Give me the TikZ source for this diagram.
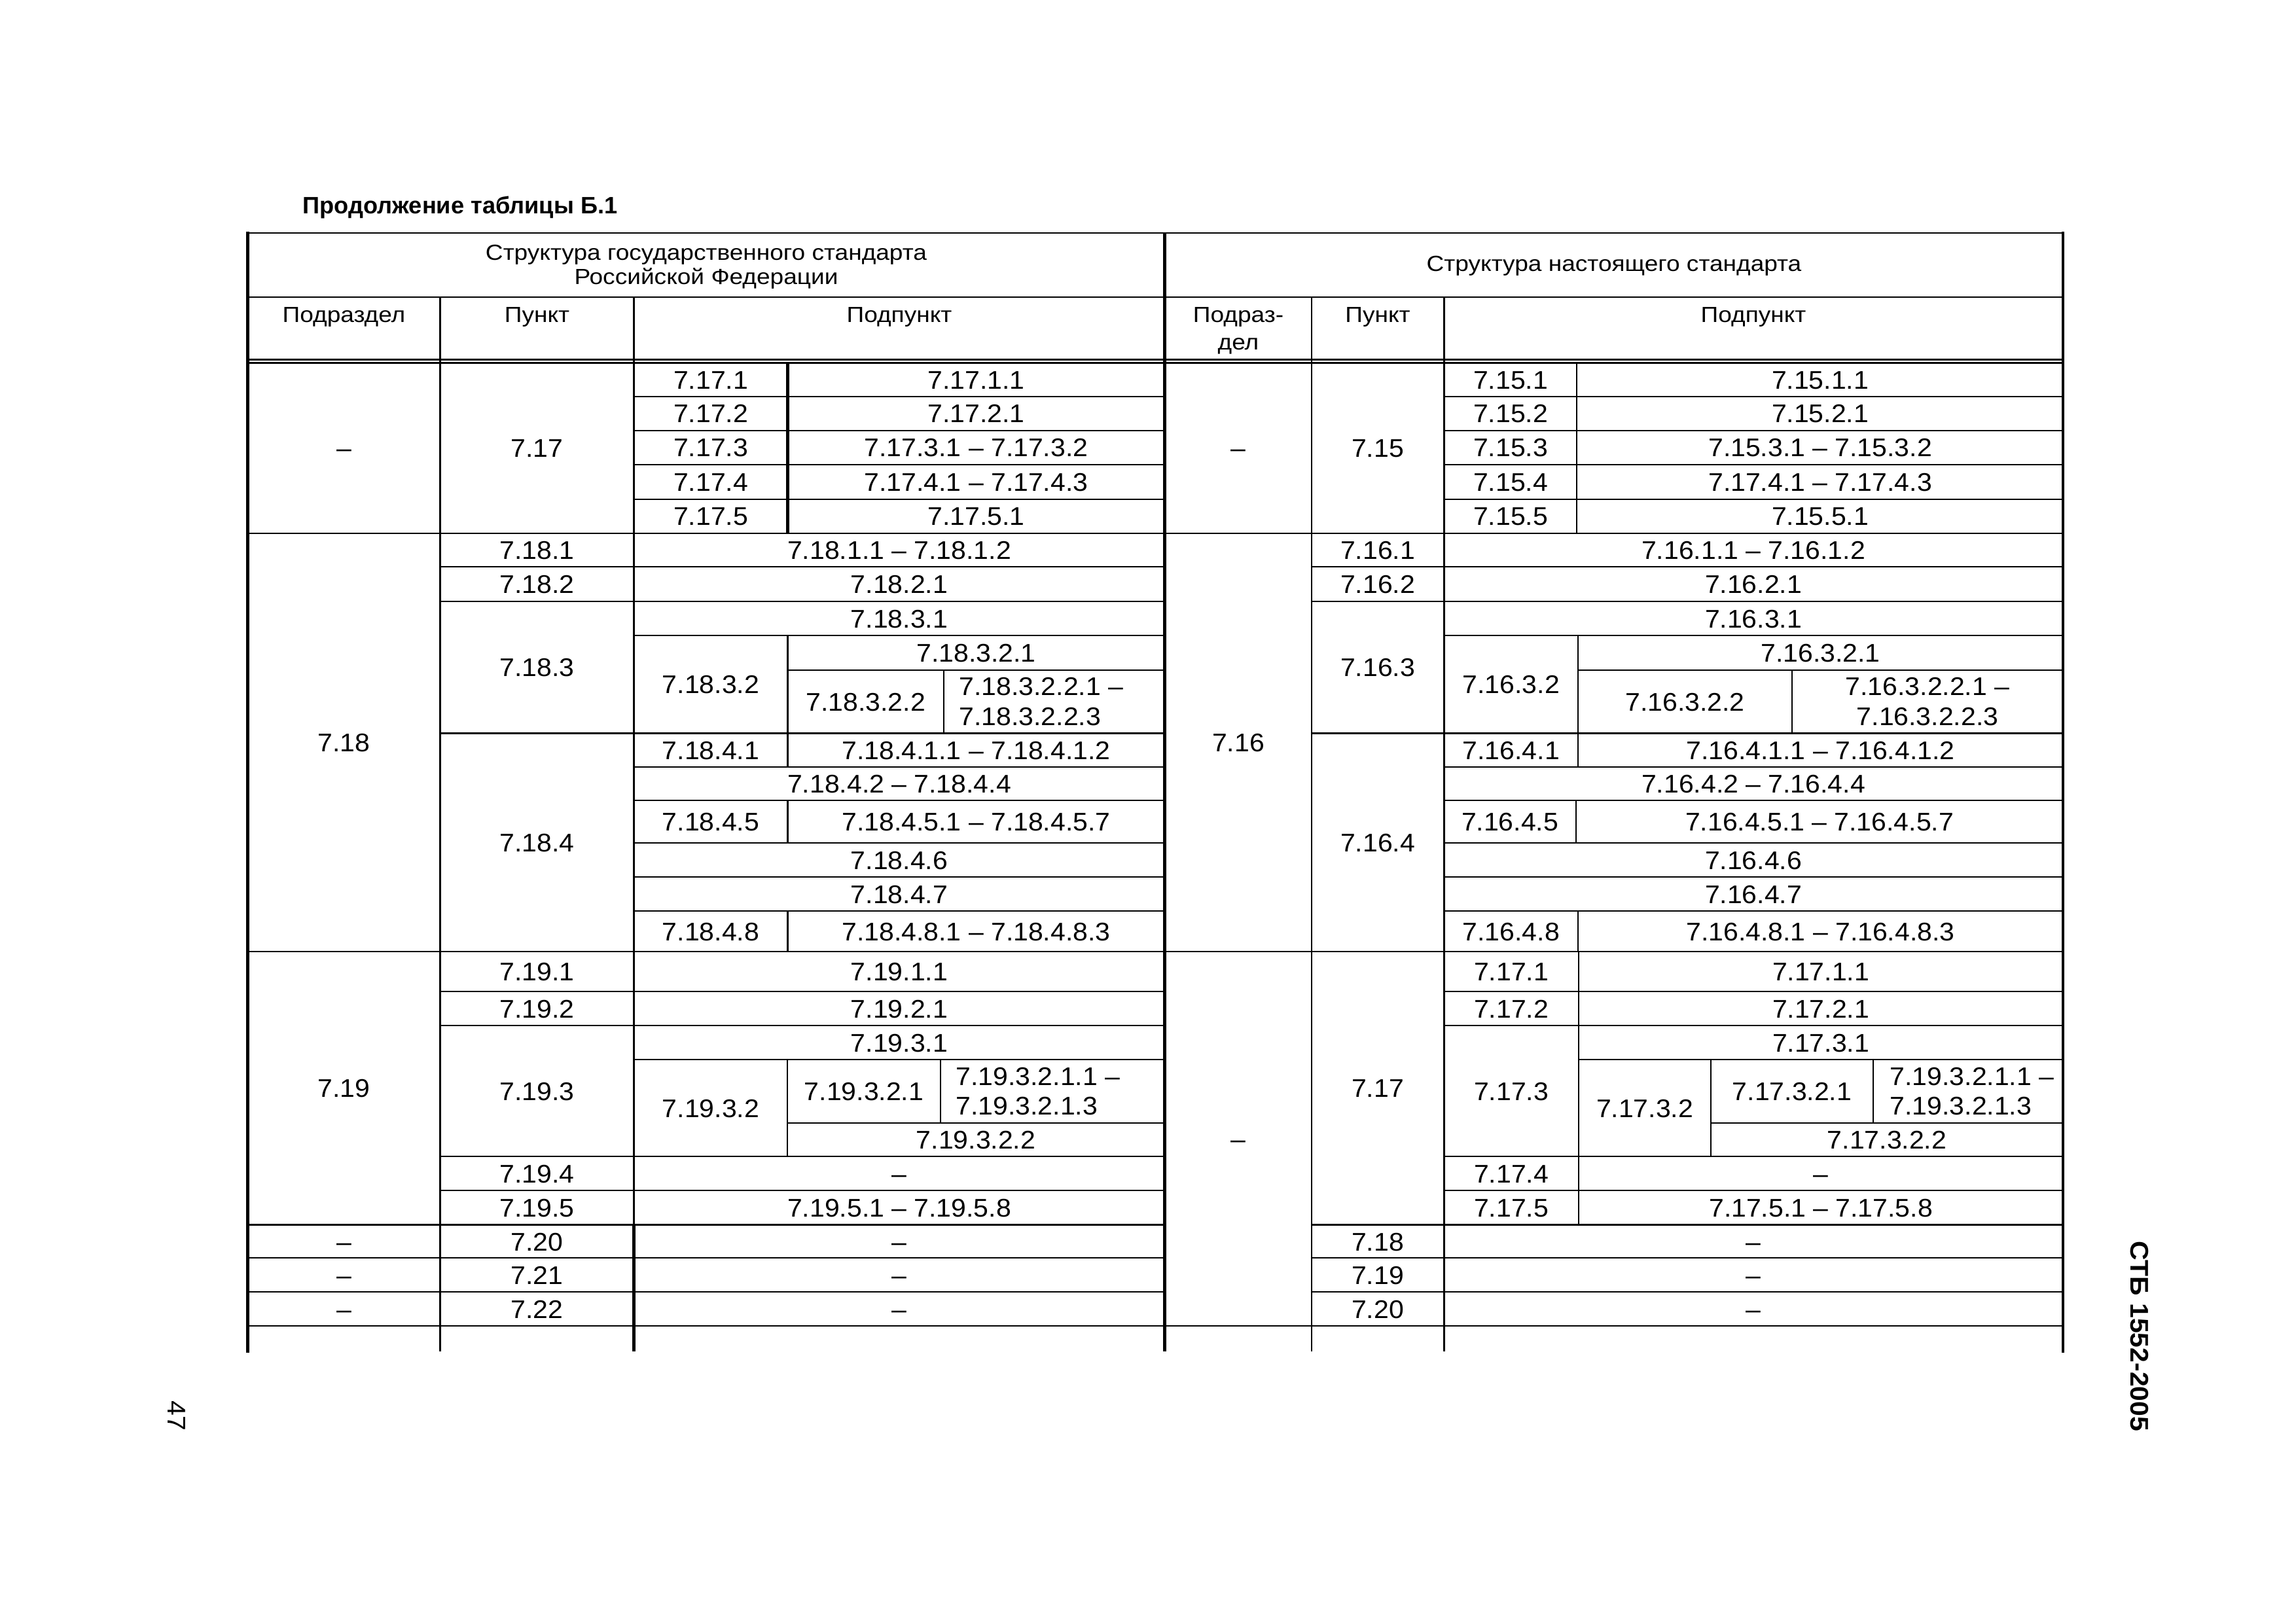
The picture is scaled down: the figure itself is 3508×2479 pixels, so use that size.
\documentclass[tikz,border=0pt]{standalone}
\usepackage{fontspec}
\setmainfont{Liberation Sans}
\newfontfamily\cellfamily[FakeStretch=1.05]{Liberation Sans}
\newfontfamily\headfamily[FakeStretch=1.11]{Liberation Sans}
\usepackage{tikz}
\usetikzlibrary{positioning}
\newcommand\cellfont{\cellfamily\fontsize{11.1}{13}\selectfont}
\newcommand\headfont{\headfamily\fontsize{9.5}{12.1}\selectfont}

\begin{document}
\begin{tikzpicture}[x=0.1mm, y=-0.1mm,
    every node/.style={inner sep=0pt},
    rule/.style={line width=0.26mm},
    heavy rule/.style={line width=0.5mm},
    frame rule/.style={line width=0.42mm, line cap=rect},
    cell/.style={font=\cellfont, text height=7.95pt, text depth=0pt},
    twoline/.style={font=\cellfont, align=left},
    head/.style={font=\headfont, align=center},
    subhead/.style={font=\headfont, align=center, anchor=north}]

    \useasboundingbox (0,0) rectangle (3508,2479);

    \node [font=\fontsize{10.3}{12}\selectfont\bfseries, anchor=base west] (title) at (462,326) {Продолжение таблицы Б.1};

    % frame and header
    \draw [rule] (378.5,356) -- (3152,356);
    \draw [frame rule] (378.5,356) -- (378.5,2065);
    \draw [frame rule] (3152,356) -- (3152,2065);
    \draw [heavy rule] (1779.5,356) -- (1779.5,2065);
    \draw [rule] (378.5,454) -- (3152,454);
    \draw [rule] (378.5,549.5) -- (3152,549.5);
    \draw [rule] (378.5,554.5) -- (3152,554.5);
    \draw [rule] (672.5,454) -- (672.5,2065);
    \draw [rule] (968.5,454) -- (968.5,1871.5);
    \draw [heavy rule] (968.5,1871.5) -- (968.5,2065);
    \draw [rule] (2004,454) -- (2004,2065);
    \draw [rule] (2206.5,454) -- (2206.5,2065);

    \node [head, font=\headfont\linespread{0.87}\selectfont] (ghead) at (1079,408) {Структура государственного стандарта\\Российской Федерации};
    \node [head] (nhead) at (2466,406) {Структура настоящего стандарта};
    \node [subhead] (gsec) at (525.5,468.5) {Подраздел};
    \node [subhead] (gcl) at (820.5,468.5) {Пункт};
    \node [subhead] (gsub) at (1374,468.5) {Подпункт};
    \node [subhead] (nsec) at (1892,468.5) {Подраз-\\дел};
    \node [subhead] (ncl) at (2105,468.5) {Пункт};
    \node [subhead] (nsub) at (2679,468.5) {Подпункт};

    % 7.17 / 7.15
    \draw [heavy rule] (1203.5,555) -- (1203.5,815);
    \draw [rule] (2409,555) -- (2409,815);
    \foreach \y in {606,658,710,763} {
        \draw [rule] (968.5,\y) -- (1779.5,\y);
        \draw [rule] (2206.5,\y) -- (3152,\y);
    }
    \draw [rule] (378.5,815) -- (3152,815);

    \node [cell] (g17sec) at (525.5,685) {–};
    \node [cell] (g17) at (820.5,685) {7.17};
    \node [cell] (g171) at (1086,580.5) {7.17.1};
    \node [cell] (g1711) at (1491.5,580.5) {7.17.1.1};
    \node [cell] (g172) at (1086,632) {7.17.2};
    \node [cell] (g1721) at (1491.5,632) {7.17.2.1};
    \node [cell] (g173) at (1086,684) {7.17.3};
    \node [cell] (g1731) at (1491.5,684) {7.17.3.1 – 7.17.3.2};
    \node [cell] (g174) at (1086,736.5) {7.17.4};
    \node [cell] (g1741) at (1491.5,736.5) {7.17.4.1 – 7.17.4.3};
    \node [cell] (g175) at (1086,789) {7.17.5};
    \node [cell] (g1751) at (1491.5,789) {7.17.5.1};

    \node [cell] (n15sec) at (1892,685) {–};
    \node [cell] (n15) at (2105,685) {7.15};
    \node [cell] (n151) at (2308,580.5) {7.15.1};
    \node [cell] (n1511) at (2781,580.5) {7.15.1.1};
    \node [cell] (n152) at (2308,632) {7.15.2};
    \node [cell] (n1521) at (2781,632) {7.15.2.1};
    \node [cell] (n153) at (2308,684) {7.15.3};
    \node [cell] (n1531) at (2781,684) {7.15.3.1 – 7.15.3.2};
    \node [cell] (n154) at (2308,736.5) {7.15.4};
    \node [cell] (n1541) at (2781,736.5) {7.17.4.1 – 7.17.4.3};
    \node [cell] (n155) at (2308,789) {7.15.5};
    \node [cell] (n1551) at (2781,789) {7.15.5.1};

    % 7.18 / 7.16
    \foreach \y in {866,919,1120.5} {
        \draw [rule] (672.5,\y) -- (1779.5,\y);
        \draw [rule] (2004,\y) -- (3152,\y);
    }
    \foreach \y in {971,1172,1223,1288,1340,1392} {
        \draw [rule] (968.5,\y) -- (1779.5,\y);
        \draw [rule] (2206.5,\y) -- (3152,\y);
    }
    \draw [rule] (1203.5,1024) -- (1779.5,1024);
    \draw [rule] (1203.5,971) -- (1203.5,1172);
    \draw [rule] (1442,1024) -- (1442,1120.5);
    \draw [rule] (1203.5,1223) -- (1203.5,1288);
    \draw [rule] (1203.5,1392) -- (1203.5,1454);
    \draw [rule] (2411,1024) -- (3152,1024);
    \draw [rule] (2411,971) -- (2411,1172);
    \draw [rule] (2738,1024) -- (2738,1120.5);
    \draw [rule] (2408,1223) -- (2408,1288);
    \draw [rule] (2411,1392) -- (2411,1454);
    \draw [rule] (378.5,1454) -- (3152,1454);

    \node [cell] (g18sec) at (525.5,1134.5) {7.18};
    \node [cell] (g181) at (820.5,840.5) {7.18.1};
    \node [cell] (g1811) at (1374,840.5) {7.18.1.1 – 7.18.1.2};
    \node [cell] (g182) at (820.5,892.5) {7.18.2};
    \node [cell] (g1821) at (1374,892.5) {7.18.2.1};
    \node [cell] (g183) at (820.5,1019.75) {7.18.3};
    \node [cell] (g1831) at (1374,945) {7.18.3.1};
    \node [cell] (g1832) at (1086,1045.75) {7.18.3.2};
    \node [cell] (g18321) at (1491.5,997.5) {7.18.3.2.1};
    \node [cell] (g18322) at (1322.75,1072.25) {7.18.3.2.2};
    \node [twoline, anchor=west] (g183221) at (1465,1072.25) {7.18.3.2.2.1 –\\7.18.3.2.2.3};
    \node [cell] (g184) at (820.5,1287.25) {7.18.4};
    \node [cell] (g1841) at (1086,1146.25) {7.18.4.1};
    \node [cell] (g18411) at (1491.5,1146.25) {7.18.4.1.1 – 7.18.4.1.2};
    \node [cell] (g1842) at (1374,1197.5) {7.18.4.2 – 7.18.4.4};
    \node [cell] (g1845) at (1086,1255.5) {7.18.4.5};
    \node [cell] (g18451) at (1491.5,1255.5) {7.18.4.5.1 – 7.18.4.5.7};
    \node [cell] (g1846) at (1374,1314) {7.18.4.6};
    \node [cell] (g1847) at (1374,1366) {7.18.4.7};
    \node [cell] (g1848) at (1086,1423) {7.18.4.8};
    \node [cell] (g18481) at (1491.5,1423) {7.18.4.8.1 – 7.18.4.8.3};

    \node [cell] (n16sec) at (1892,1134.5) {7.16};
    \node [cell] (n161) at (2105,840.5) {7.16.1};
    \node [cell] (n1611) at (2679,840.5) {7.16.1.1 – 7.16.1.2};
    \node [cell] (n162) at (2105,892.5) {7.16.2};
    \node [cell] (n1621) at (2679,892.5) {7.16.2.1};
    \node [cell] (n163) at (2105,1019.75) {7.16.3};
    \node [cell] (n1631) at (2679,945) {7.16.3.1};
    \node [cell] (n1632) at (2308.75,1045.75) {7.16.3.2};
    \node [cell] (n16321) at (2781.5,997.5) {7.16.3.2.1};
    \node [cell] (n16322) at (2574.5,1072.25) {7.16.3.2.2};
    \node [twoline, align=center] (n163221) at (2945,1072.25) {7.16.3.2.2.1 –\\7.16.3.2.2.3};
    \node [cell] (n164) at (2105,1287.25) {7.16.4};
    \node [cell] (n1641) at (2308.75,1146.25) {7.16.4.1};
    \node [cell] (n16411) at (2781.5,1146.25) {7.16.4.1.1 – 7.16.4.1.2};
    \node [cell] (n1642) at (2679,1197.5) {7.16.4.2 – 7.16.4.4};
    \node [cell] (n1645) at (2307,1255.5) {7.16.4.5};
    \node [cell] (n16451) at (2780,1255.5) {7.16.4.5.1 – 7.16.4.5.7};
    \node [cell] (n1646) at (2679,1314) {7.16.4.6};
    \node [cell] (n1647) at (2679,1366) {7.16.4.7};
    \node [cell] (n1648) at (2308.75,1423) {7.16.4.8};
    \node [cell] (n16481) at (2781.5,1423) {7.16.4.8.1 – 7.16.4.8.3};

    % 7.19 - 7.22 / 7.17 - 7.20
    \foreach \y in {1515,1567,1767,1819} {
        \draw [rule] (672.5,\y) -- (1779.5,\y);
        \draw [rule] (2206.5,\y) -- (3152,\y);
    }
    \draw [rule] (968.5,1619) -- (1779.5,1619);
    \draw [rule] (1203,1716) -- (1779.5,1716);
    \draw [rule] (1203,1619) -- (1203,1767);
    \draw [rule] (1437,1619) -- (1437,1716);
    \foreach \y in {1871.5,1922,1974,2026}
        \draw [rule] (378.5,\y) -- (1779.5,\y);
    \draw [rule] (2412,1619) -- (3152,1619);
    \draw [rule] (2614,1716) -- (3152,1716);
    \draw [rule] (2412,1454) -- (2412,1871.5);
    \draw [rule] (2614,1619) -- (2614,1767);
    \draw [rule] (2862,1619) -- (2862,1716);
    \foreach \y in {1871.5,1922,1974}
        \draw [rule] (2004,\y) -- (3152,\y);
    \draw [rule] (1779.5,2026) -- (3152,2026);

    \node [cell] (g19sec) at (525.5,1662.75) {7.19};
    \node [cell] (g191) at (820.5,1484.5) {7.19.1};
    \node [cell] (g1911) at (1374,1484.5) {7.19.1.1};
    \node [cell] (g192) at (820.5,1541) {7.19.2};
    \node [cell] (g1921) at (1374,1541) {7.19.2.1};
    \node [cell] (g193) at (820.5,1667) {7.19.3};
    \node [cell] (g1931) at (1374,1593) {7.19.3.1};
    \node [cell] (g1932) at (1086,1693) {7.19.3.2};
    \node [cell] (g19321) at (1320,1667.5) {7.19.3.2.1};
    \node [twoline, anchor=west] (g193211) at (1460,1667.5) {7.19.3.2.1.1 –\\7.19.3.2.1.3};
    \node [cell] (g19322) at (1491,1741.5) {7.19.3.2.2};
    \node [cell] (g194) at (820.5,1793) {7.19.4};
    \node [cell] (g1941) at (1374,1793) {–};
    \node [cell] (g195) at (820.5,1845) {7.19.5};
    \node [cell] (g1951) at (1374,1845) {7.19.5.1 – 7.19.5.8};
    \node [cell] (g20sec) at (525.5,1897) {–};
    \node [cell] (g20) at (820.5,1897) {7.20};
    \node [cell] (g201) at (1374,1897) {–};
    \node [cell] (g21sec) at (525.5,1948) {–};
    \node [cell] (g21) at (820.5,1948) {7.21};
    \node [cell] (g211) at (1374,1948) {–};
    \node [cell] (g22sec) at (525.5,2000) {–};
    \node [cell] (g22) at (820.5,2000) {7.22};
    \node [cell] (g221) at (1374,2000) {–};

    \node [cell] (n17sec) at (1892,1740) {–};
    \node [cell] (n17) at (2105,1662.75) {7.17};
    \node [cell] (n171) at (2309,1484.5) {7.17.1};
    \node [cell] (n1711) at (2782,1484.5) {7.17.1.1};
    \node [cell] (n172) at (2309,1541) {7.17.2};
    \node [cell] (n1721) at (2782,1541) {7.17.2.1};
    \node [cell] (n173) at (2309,1667) {7.17.3};
    \node [cell] (n1731) at (2782,1593) {7.17.3.1};
    \node [cell] (n1732) at (2513,1693) {7.17.3.2};
    \node [cell] (n17321) at (2738,1667.5) {7.17.3.2.1};
    \node [twoline, anchor=west] (n173211) at (2887,1667.5) {7.19.3.2.1.1 –\\7.19.3.2.1.3};
    \node [cell] (n17322) at (2883,1741.5) {7.17.3.2.2};
    \node [cell] (n174) at (2309,1793) {7.17.4};
    \node [cell] (n1741) at (2782,1793) {–};
    \node [cell] (n175) at (2309,1845) {7.17.5};
    \node [cell] (n1751) at (2782,1845) {7.17.5.1 – 7.17.5.8};
    \node [cell] (n18) at (2105,1897) {7.18};
    \node [cell] (n181) at (2679,1897) {–};
    \node [cell] (n19) at (2105,1948) {7.19};
    \node [cell] (n191) at (2679,1948) {–};
    \node [cell] (n20) at (2105,2000) {7.20};
    \node [cell] (n201) at (2679,2000) {–};

    \node [font=\cellfont, rotate=-90] (pageno) at (270,2163) {47};
    \node [font=\cellfont\bfseries, rotate=-90] (stb) at (3269,2042) {СТБ 1552-2005};
\end{tikzpicture}
\end{document}
